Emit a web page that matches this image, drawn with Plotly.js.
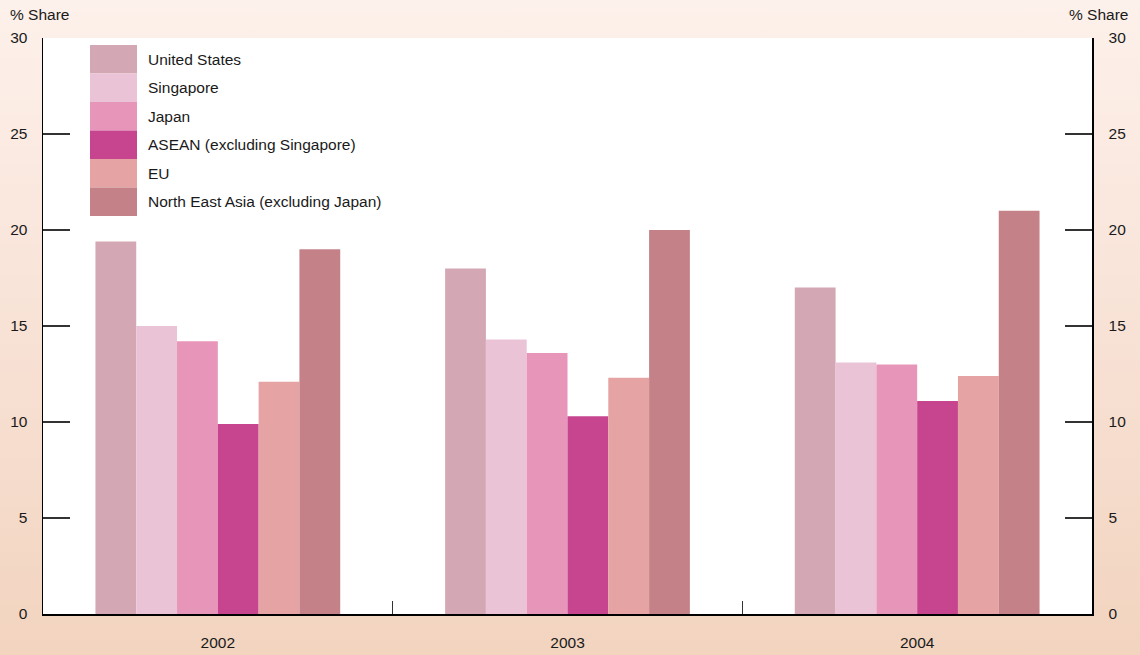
<!DOCTYPE html>
<html>
<head>
<meta charset="utf-8">
<script src="https://cdn.plot.ly/plotly-3.0.1.min.js"></script>
<style>
  html, body { margin:0; padding:0; }
  #chart { width:1140px; height:655px; background: linear-gradient(to bottom, #fdf1eb 0%, #f8e2d6 50%, #f2d4bf 100%); }
</style>
</head>
<body>
<div id="chart"></div>
<script>
const years = ["2002", "2003", "2004"];
const seriesNames = ["United States", "Singapore", "Japan", "ASEAN (excluding Singapore)", "EU", "North East Asia (excluding Japan)"];
const seriesColors = ["#d3a7b3", "#ebc3d7", "#e795b9", "#c7448f", "#e5a3a3", "#c48288"];
const unitedStates = [19.4, 18.0, 17.0];
const singapore = [15.0, 14.3, 13.1];
const japan = [14.2, 13.6, 13.0];
const asean = [9.9, 10.3, 11.1];
const eu = [12.1, 12.3, 12.4];
const northEastAsia = [19.0, 20.0, 21.0];
const yTicks = [0, 5, 10, 15, 20, 25, 30];

const seriesValues = [unitedStates, singapore, japan, asean, eu, northEastAsia];

const font = { family: "'Liberation Sans', Arial, sans-serif", size: 15.5, color: "#1a1a1a" };

const traces = seriesValues.map((vals, i) => ({
  type: "bar",
  name: seriesNames[i],
  x: years,
  y: vals,
  marker: { color: seriesColors[i], line: { width: 0 } },
  showlegend: false,
  hoverinfo: "x+y+name"
}));
traces.push({
  type: "scatter", mode: "markers", x: years, y: [null, null, null],
  yaxis: "y2", showlegend: false, hoverinfo: "skip", marker: { opacity: 0 }
});

// Custom legend (large swatches) in paper coordinates
const W = 1049, H = 576;
const shapes = [], annotations = [];
const legX0 = 47, legX1 = 94, legTop = 7, rowH = 28.5;
seriesNames.forEach((n, i) => {
  const top = legTop + i * rowH, bot = top + rowH;
  shapes.push({
    type: "rect", xref: "paper", yref: "paper",
    x0: legX0 / W, x1: legX1 / W, y0: 1 - top / H, y1: 1 - bot / H,
    fillcolor: seriesColors[i], line: { width: 0 }, layer: "above"
  });
  annotations.push({
    xref: "paper", yref: "paper", x: (legX1 + 9) / W, y: 1 - (top + rowH / 2) / H,
    xanchor: "left", yanchor: "middle", text: n, showarrow: false, font: font
  });
});
annotations.push({ xref: "paper", yref: "paper", x: -35 / W, y: 1 + 23 / H, xanchor: "left", yanchor: "middle", text: "% Share", showarrow: false, font: font });
annotations.push({ xref: "paper", yref: "paper", x: 1 + 38 / W, y: 1 + 23 / H, xanchor: "right", yanchor: "middle", text: "% Share", showarrow: false, font: font });

const layout = {
  width: 1140, height: 655,
  margin: { l: 43, r: 48, t: 38, b: 41, pad: 0 },
  paper_bgcolor: "rgba(0,0,0,0)",
  plot_bgcolor: "#ffffff",
  font: font,
  barmode: "group",
  bargap: 0.3,
  bargroupgap: 0,
  showlegend: false,
  xaxis: {
    type: "category",
    tickson: "boundaries",
    ticks: "inside", ticklen: 13, tickcolor: "#333333", tickwidth: 1.5,
    showline: true, linecolor: "#000000", linewidth: 1.5,
    showgrid: false, zeroline: false,
    ticklabelstandoff: 14,
    tickfont: font
  },
  yaxis: {
    range: [0, 30], tickvals: yTicks, ticktext: yTicks.map(String),
    ticks: "inside", ticklen: 27, tickcolor: "#333333", tickwidth: 1.5,
    showline: true, linecolor: "#000000", linewidth: 1.5,
    showgrid: false, zeroline: false,
    ticklabelstandoff: 11,
    tickfont: font
  },
  yaxis2: {
    range: [0, 30], tickvals: yTicks, ticktext: yTicks.map(String),
    overlaying: "y", side: "right", anchor: "x",
    ticks: "inside", ticklen: 27, tickcolor: "#333333", tickwidth: 1.5,
    showline: true, linecolor: "#000000", linewidth: 1.5,
    showgrid: false, zeroline: false,
    ticklabelstandoff: 12,
    tickfont: font
  },
  shapes: shapes,
  annotations: annotations
};

Plotly.newPlot("chart", traces, layout, { displayModeBar: false, staticPlot: true });
</script>
</body>
</html>
